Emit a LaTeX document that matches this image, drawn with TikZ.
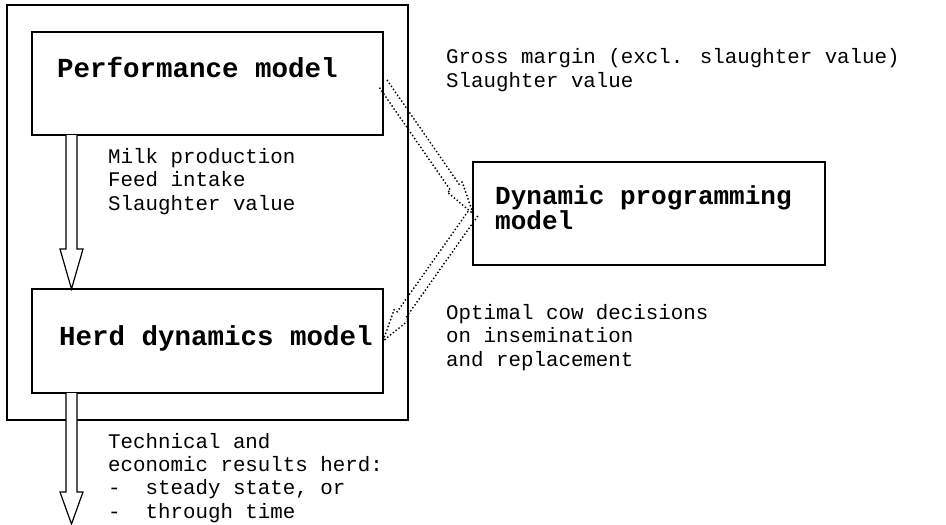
\documentclass[tikz,border=0pt]{standalone}
\usepackage{fontspec}
\newfontfamily\courier{Liberation Mono}
\usetikzlibrary{calc}

% hollow block arrow from #2 to #3: #4 shaft half width, #5 head half width, #6 head length
\newcommand{\hollowarrow}[6]{%
  \coordinate (ha-base) at ($(#3)!#6!(#2)$);
  \draw[#1] ($(#2)!#4!90:(#3)$) -- ($(ha-base)!#4!90:(#3)$) -- ($(ha-base)!#5!90:(#3)$)
    -- (#3) -- ($(ha-base)!#5!-90:(#3)$) -- ($(ha-base)!#4!-90:(#3)$) -- ($(#2)!#4!-90:(#3)$);
}

\begin{document}
\begin{tikzpicture}[x=1pt,y=-1pt,
  box/.style={draw, line width=1.2pt, minimum width=#1, inner sep=0pt, outer sep=0pt},
  title/.style={font=\courier\bfseries\fontsize{27.5pt}{30pt}\selectfont, inner sep=0pt, anchor=base west},
  note/.style={font=\courier\fontsize{20.8pt}{23.2pt}\selectfont, inner sep=0pt, anchor=base west, align=left},
  flow/.style={line width=1.2pt, fill=white, line join=miter},
  dots/.style={line width=2pt, dash pattern=on 0pt off 3.6pt, line cap=round, line join=round}]
\useasboundingbox (0,0) rectangle (946,525);

% outer frame around the two simulation models
\node[box=401pt, minimum height=415pt, anchor=north west] (frame) at (7,5) {};

% model boxes
\node[box=351pt, minimum height=103pt, anchor=north west] (perf) at (32,32) {};
\node[box=351pt, minimum height=104pt, anchor=north west] (herd) at (32,289) {};
\node[box=352pt, minimum height=103pt, anchor=north west] (dp) at (473,162) {};

% box titles (multi-line nodes are placed by the baseline of their last line)
\node[title] (perflabel) at (57,77) {Performance model};
\node[title] (herdlabel) at (59,345) {Herd dynamics model};
\node[title, font=\courier\bfseries\fontsize{26pt}{25pt}\selectfont, align=left] (dplabel) at (495,229) {Dynamic programming\\model};

% vertical flow arrows
\coordinate (axis) at (71.5,0);
\coordinate (out) at (71.5,524);
\hollowarrow{flow}{axis |- perf.south}{axis |- herd.north}{5.5pt}{11.5pt}{40pt}
\hollowarrow{flow}{axis |- herd.south}{out}{5.5pt}{11.5pt}{32pt}

% information exchange with the dynamic programming model
\hollowarrow{dots}{perf.east}{dp.west}{5.3pt}{9pt}{32pt}
\hollowarrow{dots}{dp.west}{herd.east}{5.3pt}{9pt}{32pt}

% labels
\node[note] (flow1) at (108,210) {Milk production\\Feed intake\\Slaughter value};
\node[note] (toDP) at (446,87) {Gross margin (excl. slaughter value)\\Slaughter value};
\node[note] (fromDP) at (446,366) {Optimal cow decisions\\on insemination\\and replacement};
\node[note] (results) at (108,518) {Technical and\\economic results herd:\\-~~steady state, or\\-~~through time};
\end{tikzpicture}
\end{document}
